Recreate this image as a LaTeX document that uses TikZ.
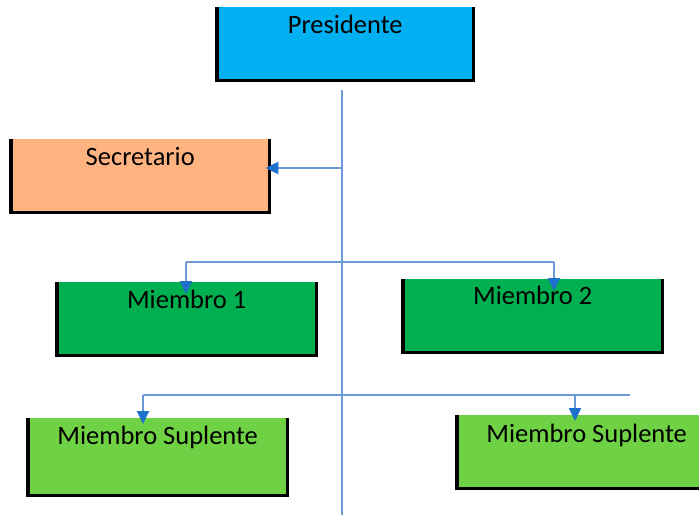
\documentclass[tikz,border=0pt]{standalone}
\usepackage{fontspec}
\setmainfont{Carlito}
\usetikzlibrary{arrows.meta}
\definecolor{presblue}{RGB}{0,176,240}
\definecolor{secorange}{RGB}{255,179,129}
\definecolor{memgreen}{RGB}{0,176,80}
\definecolor{supgreen}{RGB}{110,210,68}
\definecolor{linkblue}{RGB}{108,152,216}
\definecolor{tipblue}{RGB}{30,112,205}
\tikzset{box/.style = {anchor=north west, inner sep=0pt, minimum width=258, text height=26pt, text depth=47pt, font=\fontsize{26.5}{30}\selectfont}}
\tikzset{rim/.style = {line width=3.5pt, black}}
\tikzset{link/.style = {line width=2.5pt, linkblue}}
\tikzset{drop/.style = {link, line width=2pt, -{Triangle[length=13pt, width=12pt, color=tipblue]}, shorten >=-12pt}}

\begin{document}
\begin{tikzpicture}[x=1pt, y=-1pt]
\useasboundingbox (0,0) rectangle (699,515);
\clip (0,0) rectangle (699,515);
\node [box, fill=presblue, minimum width=256] (pres) at (217,7) {Presidente};
\node [box, fill=secorange] (secr) at (11,139) {Secretario};
\node [box, fill=memgreen, minimum width=259] (m1) at (57,282) {Miembro 1};
\node [box, fill=memgreen, minimum width=259, text height=25pt, text depth=48pt] (m2) at (403,279) {Miembro 2};
\node [box, fill=supgreen, minimum width=259, text depth=51pt] (sup1) at (28,418) {Miembro Suplente};
\node [box, fill=supgreen, minimum width=259, text height=27pt, text depth=46pt] (sup2) at (457,415) {Miembro Suplente};
\foreach \n in {pres, secr, m1, m2, sup1, sup2}
  \draw [rim] (\n.north west) -- (\n.south west) -- (\n.south east) -- (\n.north east);
\coordinate (trunktop) at (342,90);
\coordinate (trunkbot) at (342,515);
\coordinate (jsec) at (342,168);
\coordinate (bar1l) at (186,262);
\coordinate (bar1r) at (554,262);
\coordinate (bar2l) at (143,395);
\coordinate (bar2r) at (630,395);
\coordinate (bar2d) at (575,395);
\draw [link] (trunktop) -- (trunkbot);
\draw [drop, shorten >=-4pt] (jsec) -- (jsec -| secr.east);
\draw [link] (bar1l) -- (bar1r);
\draw [link] (bar2l) -- (bar2r);
\draw [drop] (bar1l) -- (bar1l |- m1.north);
\draw [drop] (bar1r) -- (bar1r |- m2.north);
\draw [drop, shorten >=-6pt] (bar2l) -- (bar2l |- sup1.north);
\draw [drop, shorten >=-6pt] (bar2d) -- (bar2d |- sup2.north);
\end{tikzpicture}
\end{document}
